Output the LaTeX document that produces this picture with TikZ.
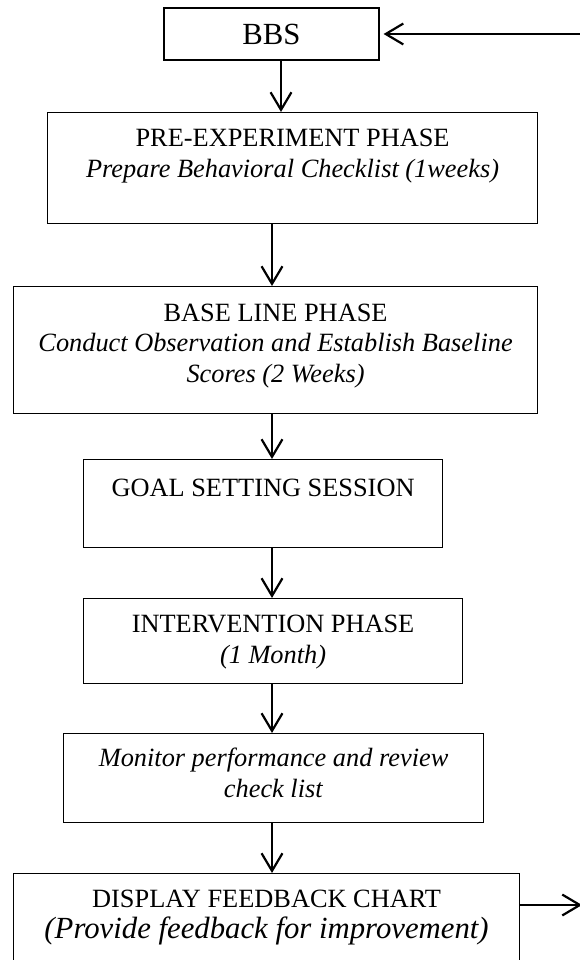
\documentclass[tikz,border=0pt]{standalone}
\usepackage{fontspec}
\setmainfont{Liberation Serif}
\usepackage{tikz}
\usetikzlibrary{arrows.meta, positioning, calc}

% box body: [top gap]{width}{height}{text}
\newcommand{\stagetext}[4][7.6pt]{\parbox[c][#3][t]{#2}{\centering\vspace*{#1}#4\par}}

\begin{document}
\begin{tikzpicture}[
  x=0.016cm, y=-0.016cm,
  stage/.style={draw, line width=0.6pt, inner sep=0pt, anchor=north west, font=\fontsize{12}{13.8}\selectfont},
  flow/.style={draw, line width=1.1pt, -{Straight Barb[length=8pt, width=9.5pt, line width=1pt]}},
]
  \useasboundingbox (0,0) rectangle (580,960);

  \node[stage, anchor=center, minimum width=3.44cm, minimum height=0.832cm,
        font=\fontsize{14}{16}\selectfont] (bbs) at (271.5,34) {BBS};
  \node[stage] (pre) at (47,112)
    {\stagetext{7.84cm}{1.776cm}{PRE-EXPERIMENT PHASE\\\textit{Prepare Behavioral Checklist (1weeks)}}};
  \node[stage] (base) at (13,286)
    {\stagetext[7.9pt]{8.384cm}{2.032cm}{BASE LINE PHASE\\\textit{Conduct Observation and Establish Baseline\\Scores (2 Weeks)}}};
  \node[stage] (goal) at (83,459)
    {\stagetext[8.8pt]{5.744cm}{1.408cm}{GOAL SETTING SESSION}};
  \node[stage] (interv) at (83,598)
    {\stagetext{6.064cm}{1.36cm}{INTERVENTION PHASE\\\textit{(1 Month)}}};
  \node[stage] (monitor) at (63,733)
    {\stagetext[6.7pt]{6.72cm}{1.424cm}{\textit{Monitor performance and review\\check list}}};
  \node[stage] (display) at (13,873)
    {\stagetext{8.096cm}{1.632cm}{DISPLAY FEEDBACK CHART\\{\fontsize{14}{16}\selectfont\textit{(Provide feedback for improvement)}}}};

  % arrow lines
  \coordinate (drop) at (281,0);
  \coordinate (spine) at (272,0);
  \coordinate (loopin) at (580,34);
  \coordinate (loopout) at (582,905);

  \draw[flow] (bbs.south -| drop) -- (pre.north -| drop);
  \draw[flow] (pre.south -| spine) -- (base.north -| spine);
  \draw[flow] (base.south -| spine) -- (goal.north -| spine);
  \draw[flow] (goal.south -| spine) -- (interv.north -| spine);
  \draw[flow] (interv.south -| spine) -- (monitor.north -| spine);
  \draw[flow] (monitor.south -| spine) -- (display.north -| spine);
  \draw[flow, line width=0.8pt, shorten >=1.8pt] (loopin) -- (bbs.east);
  \draw[flow, line width=0.8pt] (display.east |- loopout) -- (loopout);
\end{tikzpicture}
\end{document}
